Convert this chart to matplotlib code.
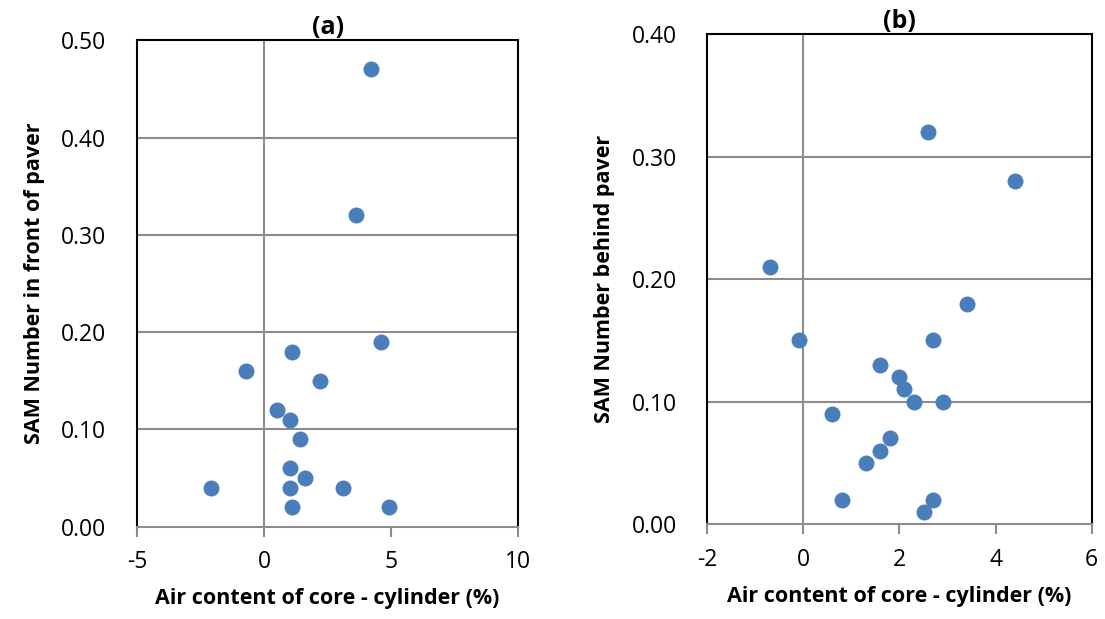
import numpy as np
import matplotlib.pyplot as plt

plt.rcParams['font.family'] = ['Open Sans', 'DejaVu Sans']

# panel (a): SAM number in front of paver
air_a = [4.2, 3.6, 4.6, 1.1, -0.7, 2.2, 0.5, 1.0, 1.4, 1.0, 1.6, -2.1, 1.0, 3.1, 1.1, 4.9]
sam_a = [0.47, 0.32, 0.19, 0.18, 0.16, 0.15, 0.12, 0.11, 0.09, 0.06, 0.05, 0.04, 0.04, 0.04, 0.02, 0.02]

# panel (b): SAM number behind paver
air_b = [2.6, 4.4, -0.7, 3.4, -0.1, 2.7, 1.6, 2.0, 2.1, 2.3, 2.9, 0.6, 1.8, 1.6, 1.3, 0.8, 2.7, 2.5]
sam_b = [0.32, 0.28, 0.21, 0.18, 0.15, 0.15, 0.13, 0.12, 0.11, 0.10, 0.10, 0.09, 0.07, 0.06, 0.05, 0.02, 0.02, 0.01]

xlabel = 'Air content of core - cylinder (%)'
blue = '#4A7EBB'
grid = '#8C8C8C'

fig = plt.figure(figsize=(11.05, 6.19), dpi=100)
ax1 = fig.add_axes([0.124, 0.149, 0.345, 0.786])
ax2 = fig.add_axes([0.640, 0.153, 0.348, 0.792])


def style(ax, xlim, xticks, ylim, yticks, ylabel, title):
    ax.set_xlim(xlim)
    ax.set_ylim(ylim)
    ax.set_xticks(xticks)
    ax.set_yticks(yticks)
    ax.set_xticklabels([str(t) for t in xticks])
    ax.set_yticklabels(['%.2f' % t for t in yticks])
    for t in yticks[1:-1]:
        ax.axhline(t, color=grid, lw=1.5, zorder=1)
    ax.axvline(0, color=grid, lw=1.5, zorder=1)
    for s in ['left', 'right', 'top']:
        ax.spines[s].set_color('black')
        ax.spines[s].set_linewidth(1.5)
    ax.spines['bottom'].set_color(grid)
    ax.spines['bottom'].set_linewidth(1.5)
    ax.tick_params(axis='x', direction='out', length=7, width=1.5, color=grid,
                   labelsize=16.5, pad=10)
    ax.tick_params(axis='y', length=0, labelsize=16.5, pad=22)
    ax.set_xlabel(xlabel, fontsize=15.5, fontweight='bold', labelpad=10)
    ax.set_ylabel(ylabel, fontsize=15.5, fontweight='bold', labelpad=12)
    ax.set_title(title, fontsize=18, fontweight='bold', pad=-2)


style(ax1, (-5, 10), [-5, 0, 5, 10], (0, 0.5), [0, 0.1, 0.2, 0.3, 0.4, 0.5],
      'SAM Number in front of paver', '(a)')
ax1.scatter(air_a, sam_a, s=110, color=blue, zorder=3, clip_on=False)

style(ax2, (-2, 6), [-2, 0, 2, 4, 6], (0, 0.4), [0, 0.1, 0.2, 0.3, 0.4],
      'SAM Number behind paver', '(b)')
ax2.scatter(air_b, sam_b, s=110, color=blue, zorder=3, clip_on=False)

fig.savefig('out.png', dpi=100)
